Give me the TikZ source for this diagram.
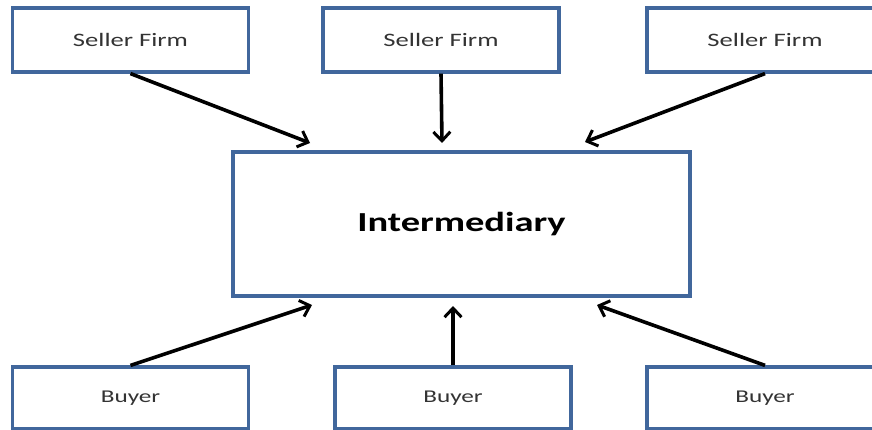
\documentclass[tikz,border=0pt]{standalone}
\usepackage{fontspec}
\newfontfamily\boxfont[FakeStretch=1.4]{Carlito}
\usetikzlibrary{arrows.meta}
\definecolor{boxblue}{HTML}{41679C}

\begin{document}
\begin{tikzpicture}[x=1pt,y=-1pt,inner sep=0pt,
    party/.style={draw=boxblue,line width=3.2pt,fill=white,minimum width=236pt,minimum height=64pt,font=\boxfont\fontsize{19}{22}\selectfont,text=black!80},
    buyerbox/.style={party,minimum height=62pt,font=\boxfont\fontsize{18}{21}\selectfont},
    hub/.style={draw=boxblue,line width=3.2pt,fill=white,minimum width=457pt,minimum height=144pt,font=\boxfont\bfseries\fontsize{27.5}{31}\selectfont},
    link/.style={line width=3.6pt,-{Straight Barb[length=9pt,width=17pt,line width=3pt]}}]
\useasboundingbox (0,0) rectangle (872,430);
\draw (130.5, 40) node[party](seller1) {Seller Firm};
\draw (441, 40) node[party](seller2) {Seller Firm};
\draw (765, 40) node[party](seller3) {Seller Firm};
\draw (461.5, 224) node[hub](inter) {Intermediary};
\draw (130.5, 398) node[buyerbox](buyer1) {Buyer};
\draw (453, 398) node[buyerbox](buyer2) {Buyer};
\draw (765, 398) node[buyerbox](buyer3) {Buyer};
\coordinate (in1) at (310, 143);
\coordinate (in2) at (442, 143);
\coordinate (in3) at (585, 142);
\coordinate (in4) at (312, 305);
\coordinate (in5) at (453, 306);
\coordinate (in6) at (597, 305);
\draw[link] (seller1.south) -- (in1);
\draw[link] (seller2.south) -- (in2);
\draw[link] (seller3.south) -- (in3);
\draw[link] (buyer1.north) -- (in4);
\draw[link] (buyer2.north) -- (in5);
\draw[link] (buyer3.north) -- (in6);
\end{tikzpicture}
\end{document}
